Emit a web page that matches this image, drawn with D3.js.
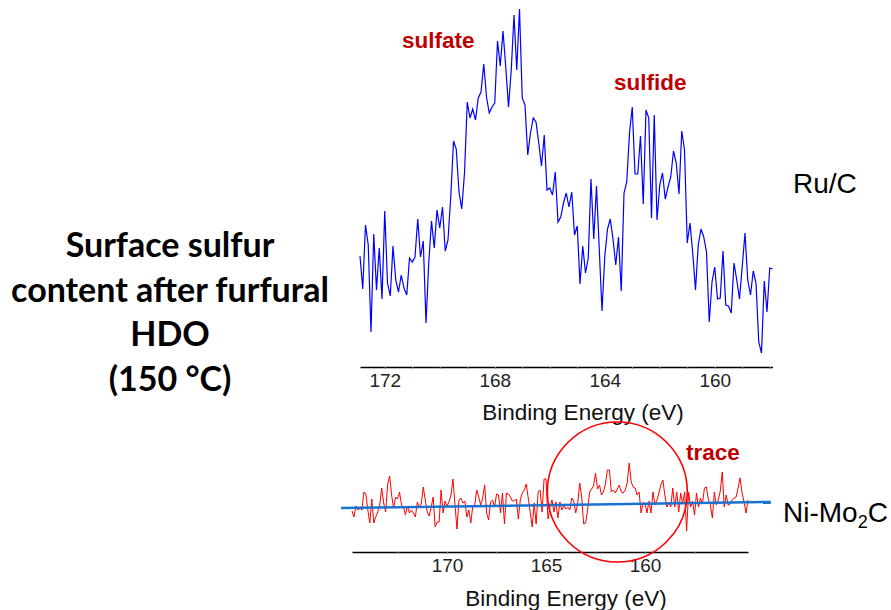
<!DOCTYPE html>
<meta charset="utf-8">

<!-- Load d3.js -->
<script src="https://d3js.org/d3.v7.min.js"></script>

<style>
  body { margin: 0; background: #fff; }
</style>

<!-- Create a div where the graph will take place -->
<div id="my_dataviz"></div>

<script>

// Ru/C S 2p spectrum, 0.1 eV steps going down from 172.9 eV
var ruStart = 172.9, ruStep = 0.1
var ruCounts = [
  114, 81, 145, 125, 38, 136, 80, 122, 71, 159,
  87, 74, 124, 90, 78, 95, 82, 75, 112, 108,
  113, 151, 113, 129, 47, 107, 149, 122, 160, 142,
  163, 119, 130, 173, 229, 221, 178, 161, 197, 268,
  252, 261, 250, 272, 278, 306, 273, 257, 263, 267,
  329, 304, 339, 303, 263, 300, 355, 300, 361, 272,
  265, 215, 237, 252, 248, 227, 204, 235, 180, 182,
  175, 198, 148, 153, 167, 177, 163, 178, 135, 144,
  86, 124, 97, 112, 191, 131, 184, 121, 59, 113,
  141, 151, 131, 105, 133, 79, 177, 188, 237,
  263, 196, 196, 234, 166, 260, 252, 152, 255, 150,
  185, 197, 171, 183, 193, 219, 207, 176, 239, 220,
  127, 147, 117, 80, 125, 141, 133, 118, 48, 88,
  103, 71, 72, 119, 65, 64, 57, 107, 90, 71,
  104, 137, 90, 75, 99, 87, 28, 17, 89, 58,
  102, 101
]

// Ni-Mo2C S 2p spectrum, 0.1 eV steps going down from 174.8 eV
var niStart = 174.8, niStep = 0.1
var niCounts = [
  49, 43, 54, 50, 53, 50, 68, 66, 50, 37,
  61, 37, 43, 48, 55, 72, 57, 48, 75, 84,
  65, 52, 63, 61, 68, 55, 53, 45, 54, 47,
  50, 47, 43, 58, 53, 56, 73, 60, 48, 44,
  53, 63, 33, 38, 38, 70, 47, 59, 54, 58,
  65, 81, 56, 31, 60, 62, 57, 59, 43, 50,
  37, 54, 55, 70, 63, 55, 62, 75, 47, 40,
  58, 60, 53, 66, 65, 47, 67, 36, 67, 66,
  63, 59, 59, 61, 41, 60, 67, 70, 76, 62,
  48, 33, 57, 36, 68, 70, 48, 81, 81, 41,
  53, 60, 48, 58, 42, 58, 50, 54, 51, 53, 50,
  62, 59, 47, 57, 77, 63, 36, 37, 50, 68,
  71, 74, 87, 71, 75, 65, 68, 76, 90, 90,
  68, 70, 67, 71, 75, 68, 67, 70, 77, 97,
  78, 73, 72, 65, 68, 47, 57, 57, 47, 59,
  47, 68, 55, 60, 67, 75, 80, 65, 53, 58,
  53, 72, 53, 68, 48, 67, 56, 68, 29, 68,
  53, 59, 45, 67, 53, 62, 56, 72, 73, 60,
  55, 42, 68, 55, 60, 69, 88, 53, 65, 55,
  56, 60, 62, 63, 72, 82, 67, 58, 47, 60
]

// fitted background line under the Ni-Mo2C trace (energy, counts)
var niBgEnergy = [175.35, 153.65]
var niBgCounts = [52, 58]

// axis ticks
var ruTicks = [172, 171, 170, 169, 168, 167, 166, 165, 164, 163, 162, 161, 160, 159, 158]
var ruTickLabels = [172, 168, 164, 160]
var niTicks = [172.5, 170, 167.5, 165, 162.5, 160, 157.5]
var niTickLabels = [170, 165, 160]

var titleLines = ["Surface sulfur", "content after furfural", "HDO", "(150 °C)"]

var width = 891, height = 610

var svg = d3.select("#my_dataviz")
  .append("svg")
    .attr("width", width)
    .attr("height", height)
    .style("font-family", "'Liberation Sans', Arial, sans-serif")

var ruData = ruCounts.map(function(v, i) { return { e: ruStart - i * ruStep, v: v } })
var niData = niCounts.map(function(v, i) { return { e: niStart - i * niStep, v: v } })

// ---- top panel: Ru/C
var x1 = d3.scaleLinear().domain([172.9, 157.9]).range([360, 772.5])
var y1 = d3.scaleLinear().domain([0, 360]).range([370, 10])

svg.append("path")
  .datum(ruData)
  .attr("fill", "none")
  .attr("stroke", "#0000ff")
  .attr("stroke-width", 1.2)
  .attr("d", d3.line().x(function(d) { return x1(d.e) }).y(function(d) { return y1(d.v) }))

var ax1 = svg.append("g")
  .attr("transform", "translate(0,367)")
  .call(d3.axisBottom(x1)
    .tickValues(ruTicks)
    .tickSize(2)
    .tickSizeOuter(0)
    .tickPadding(5)
    .tickFormat(function(d) { return ruTickLabels.indexOf(d) >= 0 ? d : "" }))
ax1.select(".domain").attr("stroke", "#000").attr("stroke-width", 1.3)
ax1.selectAll(".tick line").attr("stroke", "#888")
ax1.selectAll("text")
  .attr("font-family", "'Liberation Sans Narrow', 'Liberation Sans', sans-serif")
  .attr("font-size", 19).attr("fill", "#222")

svg.append("text")
  .attr("x", 583).attr("y", 420)
  .attr("text-anchor", "middle")
  .attr("font-size", 22.5).attr("fill", "#111")
  .text("Binding Energy (eV)")

// ---- bottom panel: Ni-Mo2C
var x2 = d3.scaleLinear().domain([174.8, 154.8]).range([352, 748])
var y2 = d3.scaleLinear().domain([0, 100]).range([560, 460])

svg.append("path")
  .datum(niData)
  .attr("fill", "none")
  .attr("stroke", "#ff0000")
  .attr("stroke-width", 1)
  .attr("d", d3.line().x(function(d) { return x2(d.e) }).y(function(d) { return y2(d.v) }))

svg.append("line")
  .attr("x1", x2(niBgEnergy[0])).attr("y1", y2(niBgCounts[0]))
  .attr("x2", x2(niBgEnergy[1])).attr("y2", y2(niBgCounts[1]))
  .attr("stroke", "#1a72d0")
  .attr("stroke-width", 2.5)

var ax2 = svg.append("g")
  .attr("transform", "translate(0,552)")
  .call(d3.axisBottom(x2)
    .tickValues(niTicks)
    .tickSize(2)
    .tickSizeOuter(0)
    .tickPadding(5)
    .tickFormat(function(d) { return niTickLabels.indexOf(d) >= 0 ? d : "" }))
ax2.select(".domain").attr("stroke", "#000").attr("stroke-width", 1.3)
ax2.selectAll(".tick line").attr("stroke", "#888")
ax2.selectAll("text")
  .attr("font-family", "'Liberation Sans Narrow', 'Liberation Sans', sans-serif")
  .attr("font-size", 19).attr("fill", "#222")

svg.append("text")
  .attr("x", 566).attr("y", 606)
  .attr("text-anchor", "middle")
  .attr("font-size", 22.5).attr("fill", "#111")
  .text("Binding Energy (eV)")

// red ring around the trace feature
svg.append("circle")
  .attr("cx", x2(161.4)).attr("cy", y2(68))
  .attr("r", 70)
  .attr("fill", "none")
  .attr("stroke", "#ff0000")
  .attr("stroke-width", 1.6)

// ---- annotations
var red = "#c00000"
svg.append("text").attr("x", 402).attr("y", 48)
  .attr("font-size", 22.5).attr("font-weight", "bold").attr("fill", red).text("sulfate")
svg.append("text").attr("x", 614).attr("y", 90)
  .attr("font-size", 22.5).attr("font-weight", "bold").attr("fill", red).text("sulfide")
svg.append("text").attr("x", 686).attr("y", 460)
  .attr("font-size", 22.5).attr("font-weight", "bold").attr("fill", red).text("trace")

svg.append("text").attr("x", 793).attr("y", 193)
  .attr("font-size", 28).attr("fill", "#000").text("Ru/C")

var ni = svg.append("text").attr("x", 783).attr("y", 522)
  .attr("font-size", 28).attr("fill", "#000")
ni.append("tspan").text("Ni-Mo")
ni.append("tspan").attr("font-size", 18).attr("dy", 6).text("2")
ni.append("tspan").attr("dy", -6).text("C")

svg.append("g")
  .selectAll("text")
  .data(titleLines)
  .enter()
  .append("text")
    .attr("x", 170)
    .attr("y", function(d, i) { return 257 + i * 44.5 })
    .attr("text-anchor", "middle")
    .attr("font-family", "Lato, 'Open Sans', sans-serif")
    .attr("font-weight", "bold")
    .attr("font-size", 34)
    .attr("fill", "#000")
    .text(function(d) { return d })

</script>
